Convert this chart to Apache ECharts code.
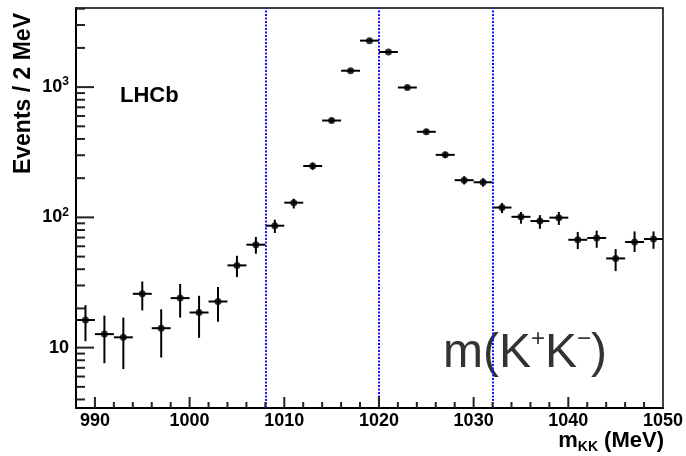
<!DOCTYPE html>
<html>
<head>
<meta charset="utf-8">
<script src="https://cdn.jsdelivr.net/npm/echarts@6/dist/echarts.min.js"></script>
<style>
  html, body { margin: 0; padding: 0; background: #fff; }
  #chart { width: 686px; height: 456px; }
</style>
</head>
<body>
<div id="chart"></div>
<script>
// bin centres (MeV), 2 MeV bins
const mass = [989, 991, 993, 995, 997, 999, 1001, 1003, 1005, 1007, 1009, 1011, 1013, 1015, 1017,
  1019, 1021, 1023, 1025, 1027, 1029, 1031, 1033, 1035, 1037, 1039, 1041, 1043, 1045, 1047, 1049];
const events = [16.3, 12.7, 12.0, 25.9, 14.1, 24.0, 18.6, 22.6, 42.8, 61.7, 86.3, 129.7, 248, 554, 1336,
  2275, 1860, 993, 454, 302, 193, 186, 119, 101, 93.7, 99.5, 67.3, 69.5, 48.4, 64.7, 68.2];
const errLow = [11.2, 7.6, 6.85, 19.3, 8.4, 17.0, 11.9, 15.8, 34.8, 52.6, 75.9, 117, 232, 531, 1299,
  2227, 1817, 961, 433, 285, 179, 172, 108, 89.5, 81.8, 87.5, 57.1, 58.5, 38.7, 54.2, 57.4];
const errHigh = [21.2, 17.6, 17.0, 32.2, 19.7, 30.8, 25.0, 29.2, 50.7, 70.7, 96, 139, 264, 577, 1373,
  2323, 1903, 1025, 475, 319, 207, 200, 129, 110, 104, 110, 77.3, 79.1, 57.1, 78, 78];
const binHalf = 1;
const windowEdges = [1008, 1020, 1032];
const xRange = [988, 1050];
const yRange = [3.44, 4050];
const yLabels = { 10: '10', 100: '10{sup|2}', 1000: '10{sup|3}' };

// ticks drawn ROOT style (inside the frame), [value, length]
const xTicks = [];
for (let v = 990; v < 1050; v += 2) xTicks.push([v, v % 10 === 0 ? 11 : 6]);
const yTicks = [];
[1, 10, 100, 1000].forEach(d => {
  for (let k = 1; k <= 9; k++) {
    const v = k * d;
    if (v > yRange[0] && v < yRange[1]) yTicks.push([v, k === 1 ? 18 : 9]);
  }
});

const font = 'Liberation Sans, Arial, sans-serif';
const tickColor = '#222';
const chart = echarts.init(document.getElementById('chart'));

chart.setOption({
  animation: false,
  grid: {
    left: 76, top: 8, right: 21, bottom: 48,
    show: true, borderColor: '#000', borderWidth: 1.5
  },
  xAxis: {
    type: 'value', min: xRange[0], max: xRange[1], splitNumber: 6,
    axisLine: { show: true, lineStyle: { color: '#000', width: 2 } },
    axisTick: { show: false },
    splitLine: { show: false },
    axisLabel: {
      margin: 4, color: '#000', fontFamily: font, fontWeight: 'bold', fontSize: 18,
      formatter: v => (Math.abs(v % 10) < 1e-6 ? String(v) : '')
    }
  },
  yAxis: {
    type: 'log', logBase: 10, min: yRange[0], max: yRange[1],
    axisLine: { show: true, lineStyle: { color: '#000', width: 2 } },
    axisTick: { show: false },
    splitLine: { show: false },
    axisLabel: {
      margin: 7, color: '#000', fontFamily: font, fontWeight: 'bold', fontSize: 18, lineHeight: 22,
      formatter: v => {
        for (const k in yLabels) {
          if (Math.abs(v - k) / k < 1e-6) return yLabels[k];
        }
        return '';
      },
      rich: {
        sup: { fontSize: 12, fontWeight: 'bold', fontFamily: font, color: '#000', lineHeight: 12, verticalAlign: 'top' }
      }
    }
  },
  series: [
    {
      // error bars: bin width horizontally, stat. error vertically
      type: 'custom',
      silent: true,
      data: mass.map((m, i) => [m, events[i], errLow[i], errHigh[i]]),
      encode: { x: 0, y: 1 },
      renderItem(params, api) {
        const x = api.value(0), y = api.value(1);
        const l = api.coord([x - binHalf, y]);
        const r = api.coord([x + binHalf, y]);
        const lo = api.coord([x, api.value(2)]);
        const hi = api.coord([x, api.value(3)]);
        return {
          type: 'group',
          children: [
            { type: 'line', shape: { x1: l[0], y1: l[1], x2: r[0], y2: r[1] }, style: { stroke: '#000', lineWidth: 2 } },
            { type: 'line', shape: { x1: lo[0], y1: lo[1], x2: hi[0], y2: hi[1] }, style: { stroke: '#000', lineWidth: 2 } }
          ]
        };
      }
    },
    {
      type: 'scatter',
      data: mass.map((m, i) => [m, events[i]]),
      symbol: 'circle',
      symbolSize: 7,
      itemStyle: { color: '#000' },
      silent: true,
      markLine: {
        silent: true,
        symbol: ['none', 'none'],
        label: { show: false },
        lineStyle: { color: '#1414ff', type: [2, 1.5], width: 2 },
        data: windowEdges.map(v => ({ xAxis: v }))
      }
    },
    {
      type: 'custom',
      silent: true,
      clip: false,
      z: 5,
      data: xTicks.map(t => [t[0], yRange[0], t[1]]),
      encode: { x: 0, y: 1 },
      renderItem(params, api) {
        const p = api.coord([api.value(0), api.value(1)]);
        return { type: 'line', shape: { x1: p[0], y1: p[1], x2: p[0], y2: p[1] - api.value(2) }, style: { stroke: tickColor, lineWidth: 2 } };
      }
    },
    {
      type: 'custom',
      silent: true,
      clip: false,
      z: 5,
      data: yTicks.map(t => [xRange[0], t[0], t[1]]),
      encode: { x: 0, y: 1 },
      renderItem(params, api) {
        const p = api.coord([api.value(0), api.value(1)]);
        return { type: 'line', shape: { x1: p[0], y1: p[1], x2: p[0] + api.value(2), y2: p[1] }, style: { stroke: tickColor, lineWidth: 2 } };
      }
    }
  ],
  graphic: [
    {
      type: 'text', x: 24, y: 13, rotation: Math.PI / 2,
      style: { text: 'Events / 2 MeV', fill: '#000', font: 'bold 23px ' + font, align: 'right', verticalAlign: 'middle' }
    },
    {
      type: 'text', x: 120, y: 96,
      style: { text: 'LHCb', fill: '#000', font: 'bold 22px ' + font, align: 'left', verticalAlign: 'middle' }
    },
    {
      type: 'text', x: 664, y: 441,
      style: {
        text: '{b|m}{s|KK}{b| (MeV)}', align: 'right', verticalAlign: 'middle',
        rich: {
          b: { fontFamily: font, fontWeight: 'bold', fontSize: 22, lineHeight: 26, fill: '#000' },
          s: { fontFamily: font, fontWeight: 'bold', fontSize: 14, lineHeight: 14, verticalAlign: 'bottom', fill: '#000' }
        }
      }
    },
    {
      type: 'text', x: 443, y: 354,
      style: {
        text: '{b|m(K}{s|+}{b|K}{s|\u2212}{b|)}', align: 'left', verticalAlign: 'middle',
        rich: {
          b: { fontFamily: font, fontSize: 48, lineHeight: 54, fill: '#333' },
          s: { fontFamily: font, fontSize: 24, lineHeight: 32, verticalAlign: 'top', fill: '#333' }
        }
      }
    }
  ]
});
</script>
</body>
</html>
